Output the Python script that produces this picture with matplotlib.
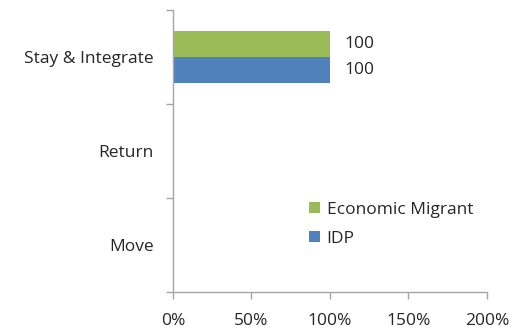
import matplotlib
matplotlib.use("Agg")
import matplotlib.pyplot as plt
import numpy as np

categories = ["Move", "Return", "Stay & Integrate"]
economic_migrant = [0, 0, 100]
idp = [0, 0, 100]
series_names = ["Economic Migrant", "IDP"]
xticks = [0, 50, 100, 150, 200]
xticklabels = ["0%", "50%", "100%", "150%", "200%"]

plt.rcParams['font.family'] = ['Open Sans', 'DejaVu Sans']
green = "#9BBB59"
blue = "#4F81BD"
axis_col = "#A6A6A6"
text_col = "#262626"
fs = 12.5

fig = plt.figure(figsize=(5.13, 3.32), dpi=100)
ax = fig.add_axes([0.337, 0.1205, 0.612, 0.849])

y = np.arange(len(categories))
h = 0.28
b1 = ax.barh(y + h/2, economic_migrant, height=h, color=green, label=series_names[0])
b2 = ax.barh(y - h/2, idp, height=h, color=blue, label=series_names[1])

for rect, v in zip(b1, economic_migrant):
    if v:
        ax.text(v + 9, rect.get_y() + rect.get_height()/2, f"{v}", va="center", ha="left", fontsize=fs, color=text_col)
for rect, v in zip(b2, idp):
    if v:
        ax.text(v + 9, rect.get_y() + rect.get_height()/2, f"{v}", va="center", ha="left", fontsize=fs, color=text_col)

ax.set_xlim(0, 200)
ax.set_ylim(-0.5, 2.5)
ax.set_xticks(xticks)
ax.set_xticklabels(xticklabels, fontsize=fs, color=text_col)
ax.set_yticks(y)
ax.set_yticklabels(categories, fontsize=fs, color=text_col)
ax.set_yticks([-0.5, 0.5, 1.5, 2.5], minor=True)
ax.tick_params(axis='y', which='major', length=0, pad=14)
ax.tick_params(axis='y', which='minor', length=5, color=axis_col, width=1)
ax.tick_params(axis='x', length=5, color=axis_col, width=1, pad=10)

for s in ["top", "right"]:
    ax.spines[s].set_visible(False)
for s in ["left", "bottom"]:
    ax.spines[s].set_color(axis_col)
    ax.spines[s].set_linewidth(1)

leg = ax.legend(loc="upper left", bbox_to_anchor=(0.385, 0.375), frameon=False,
                fontsize=fs, handlelength=0.6, handleheight=0.6, handletextpad=0.4,
                labelspacing=0.75, labelcolor=text_col)

fig.savefig("out.png", dpi=100)
